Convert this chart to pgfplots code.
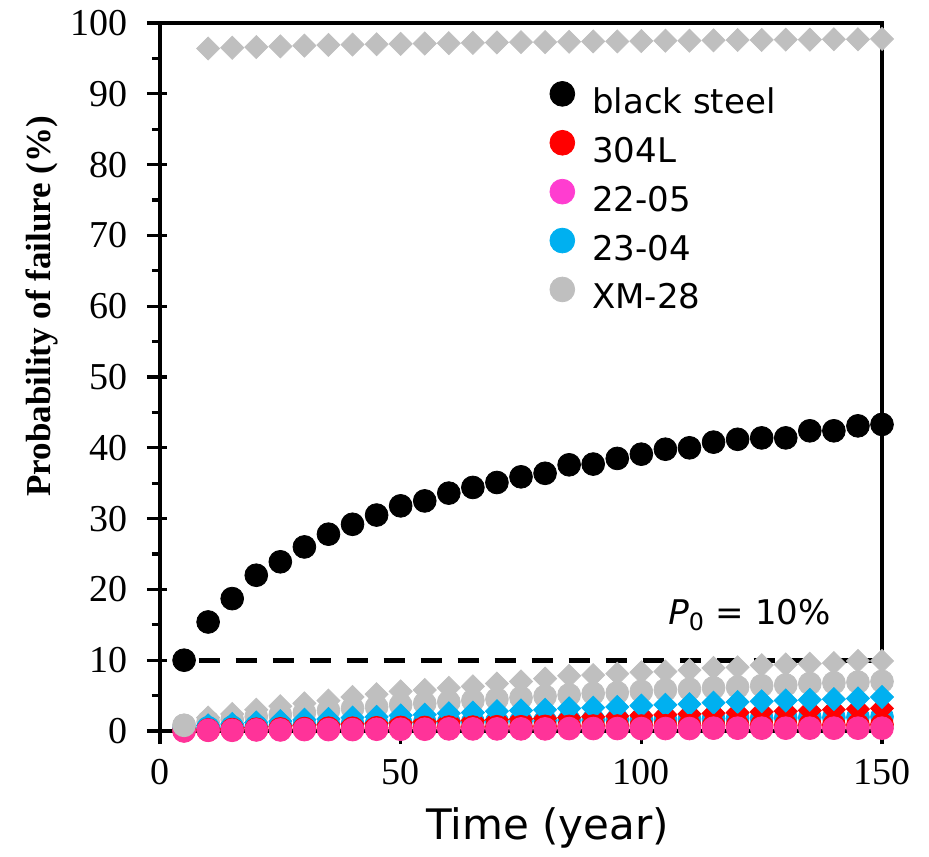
\documentclass[border=0pt]{standalone}
\usepackage{fontspec}
\setmainfont{Liberation Serif}
\newfontfamily\sans{DejaVu Sans}
\usepackage{pgfplots}
\usepackage{pgfplotstable}
\pgfplotsset{compat=1.18}

\definecolor{cpink}{HTML}{FF3399}
\definecolor{cmag}{HTML}{FF3DD0}
\definecolor{cblue}{HTML}{00B0F0}
\definecolor{cgray}{HTML}{BFBFBF}
\definecolor{cred}{HTML}{FF0000}

% circles: the five materials of the legend
\pgfplotstableread{
x   bs    s304  s2205 s2304 xm28
5   10.0  0.10  0.00  0.30  0.8
10  15.4  0.15  0.10  0.45  1.3
15  18.7  0.20  0.10  0.55  1.6
20  22.0  0.25  0.15  0.65  2.0
25  23.9  0.30  0.15  0.75  2.3
30  26.0  0.35  0.20  0.85  2.6
35  27.8  0.40  0.20  0.90  2.9
40  29.2  0.40  0.20  1.00  3.2
45  30.5  0.45  0.25  1.05  3.4
50  31.8  0.50  0.25  1.10  3.7
55  32.5  0.50  0.25  1.20  3.9
60  33.6  0.55  0.30  1.25  4.1
65  34.4  0.55  0.30  1.30  4.3
70  35.1  0.60  0.30  1.35  4.5
75  35.9  0.60  0.30  1.40  4.7
80  36.4  0.65  0.30  1.45  4.9
85  37.6  0.65  0.35  1.50  5.1
90  37.7  0.70  0.35  1.55  5.3
95  38.5  0.70  0.35  1.60  5.4
100 39.1  0.70  0.35  1.60  5.6
105 39.8  0.75  0.35  1.65  5.8
110 40.0  0.75  0.35  1.70  5.9
115 40.8  0.75  0.40  1.75  6.1
120 41.2  0.80  0.40  1.80  6.2
125 41.4  0.80  0.40  1.80  6.4
130 41.4  0.80  0.40  1.85  6.5
135 42.4  0.85  0.40  1.90  6.7
140 42.4  0.85  0.40  1.90  6.8
145 43.1  0.85  0.40  1.95  6.9
150 43.3  0.90  0.40  2.00  7.0
}\circles

% diamonds (not in the legend)
\pgfplotstableread{
x   top    xm28  s2304 s304
10  96.40  1.9   0.8   0.20
15  96.50  2.4   1.0   0.35
20  96.60  3.0   1.2   0.50
25  96.70  3.5   1.4   0.65
30  96.80  3.9   1.6   0.80
35  96.90  4.3   1.7   0.90
40  96.95  4.8   1.9   1.00
45  97.00  5.2   2.0   1.10
50  97.05  5.6   2.2   1.20
55  97.10  5.8   2.3   1.30
60  97.15  6.1   2.5   1.40
65  97.20  6.3   2.6   1.50
70  97.25  6.7   2.8   1.60
75  97.30  7.0   2.9   1.70
80  97.30  7.4   3.0   1.80
85  97.35  7.8   3.2   1.90
90  97.40  7.9   3.3   2.00
95  97.40  8.1   3.4   2.10
100 97.45  8.3   3.6   2.20
105 97.50  8.4   3.7   2.30
110 97.50  8.6   3.8   2.40
115 97.55  8.9   4.0   2.50
120 97.60  9.0   4.1   2.60
125 97.60  9.3   4.2   2.70
130 97.65  9.4   4.3   2.80
135 97.65  9.5   4.4   2.90
140 97.70  9.6   4.5   3.00
145 97.70  9.9   4.6   3.10
150 97.75  9.9   4.8   3.20
}\diamonds

\begin{document}
\begin{tikzpicture}
\begin{axis}[
  name=ax, scale only axis, width=361pt, height=354pt,
  xmin=0, xmax=150, ymin=0, ymax=100,
  xtick={0,50,100,150}, ytick={0,10,...,100},
  minor y tick num=1,
  xtick pos=left, ytick pos=left,
  axis line style={line width=1.6pt},
  tick style={line width=1.6pt, black},
  tick align=center,
  major tick length=10pt, minor tick length=4pt,
  every major y tick/.append style={xshift=-1.5pt},
  every minor y tick/.append style={xshift=-2pt},
  every major x tick/.append style={yshift=-1.5pt},
  clip=false,
  tick label style={font=\fontsize{19}{19}\selectfont, inner sep=0pt},
  yticklabel style={xshift=-11pt},
  xticklabel style={yshift=-9pt},
  /pgf/number format/assume math mode=true,
  ylabel={\textbf{Probability of failure (\%)}},
  ylabel style={font=\fontsize{17.5}{17.5}\selectfont, at={(axis description cs:-0.163,0.6)}, anchor=center},
  xlabel={Time (year)},
  xlabel style={font=\sans\fontsize{21}{21}\selectfont, at={(axis description cs:0.537,0)}, yshift=-48.5pt, anchor=center},
  legend cell align=left,
  legend style={draw=none, fill=none, at={(rel axis cs:0.5395,0.918)}, anchor=north west,
    font=\sans\fontsize{17}{17}\selectfont, row sep=5pt, column sep=8.75pt, inner sep=0pt,
    nodes={inner sep=0pt, text height=12pt, text depth=3.5pt}},
  legend image code/.code={\draw[#1, mark size=6.2pt] plot coordinates {(0pt,5.5pt)};},
]
\addplot[black, line width=2.3pt, dash pattern=on 10.5pt off 8pt, forget plot] coordinates {(8,10) (150,10)};

\addplot[only marks, mark=*, mark size=5.7pt, cgray, forget plot] table[x=x, y=xm28] {\circles};
\addplot[only marks, mark=square*, mark size=4.07pt, mark options={rotate=45}, cgray, forget plot] table[x=x, y=xm28] {\diamonds};
\addplot[only marks, mark=square*, mark size=4.07pt, mark options={rotate=45}, cgray, forget plot] table[x=x, y=top] {\diamonds};
\addplot[only marks, mark=*, mark size=5.7pt, cblue, forget plot] table[x=x, y=s2304] {\circles};
\addplot[only marks, mark=square*, mark size=4.07pt, mark options={rotate=45}, cred, forget plot] table[x=x, y=s304] {\diamonds};
\addplot[only marks, mark=square*, mark size=4.07pt, mark options={rotate=45}, cblue, forget plot] table[x=x, y=s2304] {\diamonds};
\addplot[only marks, mark=*, mark size=5.7pt, cred, forget plot] table[x=x, y=s304] {\circles};
\addplot[only marks, mark=*, mark size=5.7pt, cpink, forget plot] table[x=x, y=s2205] {\circles};
\addplot[only marks, mark=*, mark size=5.7pt, cgray, forget plot] coordinates {(5,0.8)};
\addplot[only marks, mark=*, mark size=5.7pt, black, forget plot] table[x=x, y=bs] {\circles};

\node[font=\sans\fontsize{17}{17}\selectfont, anchor=base] at (axis cs:122.5,15) {\textit{P}\textsubscript{0} = 10\%};

\addlegendimage{only marks, mark=*, black}
\addlegendentry{black steel}
\addlegendimage{only marks, mark=*, cred}
\addlegendentry{304L}
\addlegendimage{only marks, mark=*, cmag}
\addlegendentry{22-05}
\addlegendimage{only marks, mark=*, cblue}
\addlegendentry{23-04}
\addlegendimage{only marks, mark=*, cgray}
\addlegendentry{XM-28}
\end{axis}
\pgfresetboundingbox
\path[use as bounding box] ([xshift=-80pt,yshift=-62.5pt]ax.south west) rectangle ([xshift=23.5pt,yshift=11.5pt]ax.north east);
\end{tikzpicture}
\end{document}
